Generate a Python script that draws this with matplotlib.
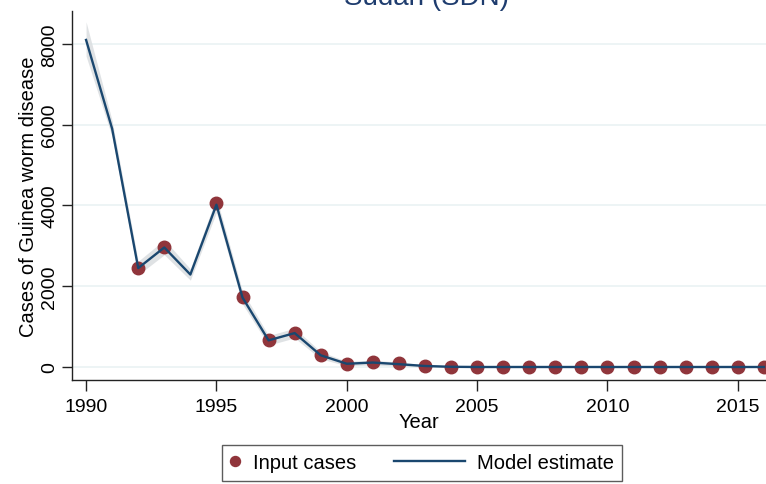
import matplotlib
matplotlib.use("Agg")
import matplotlib.pyplot as plt
from matplotlib.legend_handler import HandlerLine2D
import numpy as np

plt.rcParams['font.family'] = ['Liberation Sans', 'DejaVu Sans']

# yearly series for Sudan
years = list(range(1990, 2017))
model = [8100, 5900, 2450, 2960, 2290, 4020, 1720, 660, 840, 290, 80, 110, 70,
         25, 5, 0, 0, 0, 0, 0, 0, 0, 0, 0, 0, 0, 0]
lower = [7700, 5700, 2280, 2780, 2150, 3830, 1560, 540, 720, 200, 30, 50, 20,
         0, 0, 0, 0, 0, 0, 0, 0, 0, 0, 0, 0, 0, 0]
upper = [8550, 6100, 2620, 3150, 2430, 4200, 1880, 780, 960, 380, 140, 170, 120,
         60, 25, 10, 10, 10, 10, 10, 10, 10, 10, 10, 10, 10, 10]
case_years = [y for y in range(1992, 2017) if y != 1994]
cases = [2447, 2984, 4067, 1734, 668, 842, 297, 74, 130, 90, 30,
         0, 0, 0, 0, 0, 0, 0, 0, 0, 0, 0, 0, 0]

navy = '#1a476f'
maroon = '#90353b'


class LongLine(HandlerLine2D):
    # line sample that reaches back into the column gap
    def get_xdata(self, legend, xdescent, ydescent, width, height, fontsize):
        return [-xdescent - 3.0 * fontsize, -xdescent + width], [-xdescent + 0.5 * width]


fig = plt.figure(figsize=(7.66, 4.85), dpi=100)
ax = fig.add_axes([72/766, 1-381/485, 1-72/766, (381-12)/485])

ax.fill_between(years, lower, upper, color='#dcdfe2', alpha=0.9, lw=0, zorder=1)
line, = ax.plot(years, model, color=navy, lw=1.7, zorder=3, label='Model estimate')
pts, = ax.plot(case_years, cases, 'o', color=maroon, ms=9, zorder=2, label='Input cases')

ax.set_xlim(1989.46, 2016.08)
ax.set_ylim(-322, 8817)
ax.set_xticks([1990, 1995, 2000, 2005, 2010, 2015])
ax.set_yticks([0, 2000, 4000, 6000, 8000])
ax.grid(axis='y', color='#eaf2f3', lw=1.2)
ax.set_axisbelow(True)
for s in ['top', 'right']:
    ax.spines[s].set_visible(False)
for s in ['left', 'bottom']:
    ax.spines[s].set_color('#222222')
    ax.spines[s].set_linewidth(1.0)
ax.tick_params(axis='x', length=8, width=1, color='#222222', labelsize=14, pad=5)
ax.tick_params(axis='y', length=7, width=1, color='#222222', labelsize=14, pad=3)
for lab in ax.get_yticklabels():
    lab.set_rotation(90)
    lab.set_va('center')
ax.set_xlabel('Year', fontsize=14.5, labelpad=-2)
ax.set_ylabel('Cases of Guinea worm disease', fontsize=14.5, labelpad=2)

fig.text(426/766, 1-5/485, 'Sudan (SDN)', ha='center', va='baseline',
         fontsize=20, color='#1e3c6e')

leg = fig.legend([pts, line], ['Input cases', 'Model estimate'], loc='center',
                 bbox_to_anchor=(422/766, 1-464/485), ncol=2, fontsize=14.5,
                 frameon=True, fancybox=False, edgecolor='#333333',
                 handlelength=0.5, columnspacing=4.9, handletextpad=0.6,
                 borderpad=0.4, markerscale=0.8,
                 handler_map={line: LongLine()})
leg.get_frame().set_linewidth(1.0)

fig.savefig('out.png', dpi=100)
